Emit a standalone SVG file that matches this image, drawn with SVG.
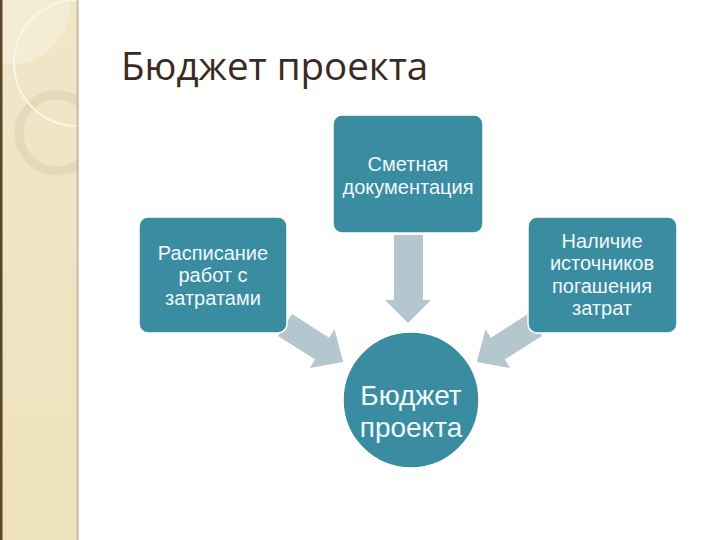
<svg xmlns="http://www.w3.org/2000/svg" width="720" height="540" viewBox="0 0 720 540">
  <defs>
    <style>
      .box { fill: #3a8ca1; stroke: #ffffff; stroke-width: 1.5; }
      .btxt { font-family: "Liberation Sans", Arial, sans-serif; font-size: 20px; fill: #f0f9fb; text-anchor: middle; }
      .ctxt { font-family: "Liberation Sans", Arial, sans-serif; font-size: 28px; fill: #f0f9fb; text-anchor: middle; }
      .arrow { fill: #b4c7ce; }
      .title { font-family: "Open Sans", "Noto Sans", sans-serif; font-size: 38.5px; fill: #3b2a22; }
    </style>
    <linearGradient id="band" x1="0" y1="0" x2="0" y2="1">
      <stop offset="0" stop-color="#f0e6c8"/>
      <stop offset="1" stop-color="#eee2bd"/>
    </linearGradient>
    <clipPath id="bandClip"><rect x="0" y="0" width="79" height="540"/></clipPath>
    <polygon id="arr" points="0,-13 44,-13 44,-23 69,0 44,23 44,13 0,13"/>
  </defs>

  <rect x="0" y="0" width="720" height="540" fill="#ffffff"/>

  <g id="band-decor" clip-path="url(#bandClip)">
    <rect x="0" y="0" width="79" height="540" fill="url(#band)"/>
    <circle cx="10" cy="5" r="60" fill="#f5eed8" opacity="0.8"/>
    <circle cx="57" cy="133" r="38" fill="none" stroke="#dccfae" stroke-width="9" opacity="0.55"/>
    <circle cx="77" cy="63" r="63" fill="none" stroke="#faf5e6" stroke-width="2"/>
    <rect x="0" y="0" width="2.5" height="540" fill="#5b4628"/>
    <rect x="76.5" y="0" width="2" height="540" fill="#cdbda8"/>
  </g>

  <text class="title" x="121" y="80">Бюджет проекта</text>

  <g id="connectors">
    <polygon class="arrow" points="394,235 423,235 423,300 431,300 408,323 385,300 394,300"/>
    <use href="#arr" class="arrow" transform="translate(285,325) rotate(32.5)"/>
    <use href="#arr" class="arrow" transform="translate(820,0) scale(-1,1) translate(285,325) rotate(32.5)"/>
  </g>

  <g id="node-schedule">
    <rect class="box" x="139" y="217" width="148" height="116" rx="9"/>
    <text class="btxt" x="213" y="260">Расписание</text>
    <text class="btxt" x="213" y="282">работ с</text>
    <text class="btxt" x="213" y="305">затратами</text>
  </g>

  <g id="node-estimate">
    <rect class="box" x="333" y="115" width="150" height="118" rx="9"/>
    <text class="btxt" x="408" y="171">Сметная</text>
    <text class="btxt" x="408" y="194">документация</text>
  </g>

  <g id="node-sources">
    <rect class="box" x="528" y="217" width="149" height="116" rx="9"/>
    <text class="btxt" x="602" y="248">Наличие</text>
    <text class="btxt" x="602" y="270">источников</text>
    <text class="btxt" x="602" y="293">погашения</text>
    <text class="btxt" x="602" y="315">затрат</text>
  </g>

  <g id="node-budget">
    <circle class="box" cx="411" cy="400" r="68"/>
    <text class="ctxt" x="411" y="405">Бюджет</text>
    <text class="ctxt" x="411" y="437">проекта</text>
  </g>
</svg>
